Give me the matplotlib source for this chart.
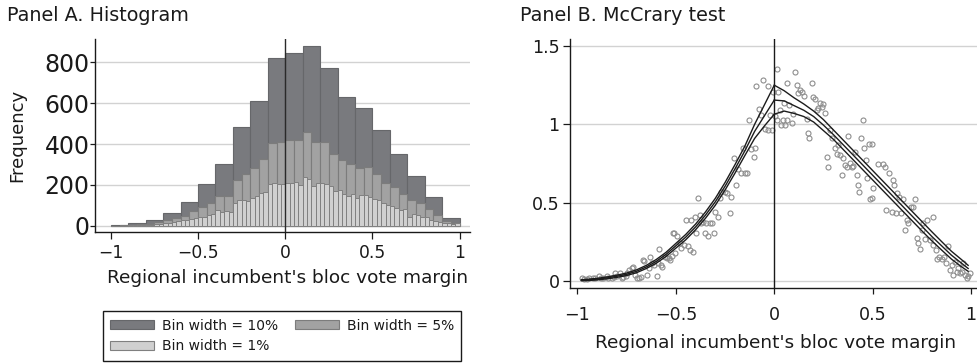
import numpy as np
import matplotlib
matplotlib.use("Agg")
import matplotlib.pyplot as plt
from matplotlib.patches import Patch

plt.rcParams["font.family"] = ["DejaVu Sans"]
plt.rcParams["text.color"] = "#1a1a1a"

# ---- Panel A: histogram counts ----
bins_10 = np.linspace(-1, 1, 21)
counts_10 = [3, 15, 28, 64, 118, 202, 300, 485, 611, 820,
             847, 880, 771, 629, 576, 469, 349, 243, 140, 39]

bins_5 = np.linspace(-1, 1, 41)
counts_5 = [1, 2, 6, 9, 11, 17, 26, 38, 48, 70,
            90, 112, 145, 147, 226, 253, 281, 325, 407, 408,
            420, 422, 460, 408, 410, 353, 320, 300, 284, 290,
            253, 211, 188, 156, 126, 110, 82, 53, 23, 15]

bins_fine = np.linspace(-1, 1, 81)
counts_fine = [0, 0, 1, 1, 2, 2, 3, 4, 4, 6,
               8, 8, 12, 15, 20, 22, 26, 28, 34, 36,
               44, 45, 52, 57, 76, 69, 73, 69, 113, 126,
               126, 121, 137, 145, 158, 167, 203, 207, 203, 204,
               211, 207, 216, 199, 238, 227, 196, 211, 207, 204,
               194, 170, 173, 154, 145, 154, 137, 150, 150, 142,
               129, 126, 110, 101, 96, 85, 77, 80, 44, 60,
               52, 44, 44, 28, 23, 20, 12, 12, 8, 12]

legend_labels = ["Bin width = 10%", "Bin width = 5%", "Bin width = 1%"]

# ---- Panel B: McCrary density, binned points and fits ----
mcc_x = [-0.978, -0.965, -0.952, -0.94, -0.923, -0.91, -0.89, -0.878, -0.868, -0.852,
         -0.843, -0.826, -0.815, -0.809, -0.80, -0.784, -0.775, -0.767, -0.755, -0.746,
         -0.736, -0.725, -0.716, -0.706, -0.696, -0.686, -0.679, -0.669, -0.662, -0.645,
         -0.637, -0.631, -0.623, -0.611, -0.598, -0.589, -0.584, -0.577, -0.569, -0.555,
         -0.547, -0.537, -0.53, -0.521, -0.513, -0.51, -0.503, -0.493, -0.48, -0.472,
         -0.459, -0.447, -0.438, -0.43, -0.421, -0.413, -0.404, -0.396, -0.387, -0.379,
         -0.37, -0.362, -0.352, -0.345, -0.337, -0.325, -0.317, -0.308, -0.30, -0.286,
         -0.277, -0.269, -0.252, -0.238, -0.223, -0.218, -0.206, -0.194, -0.184, -0.171,
         -0.158, -0.15, -0.137, -0.13, -0.12, -0.103, -0.096, -0.091, -0.077, -0.066,
         -0.057, -0.049, -0.032, -0.032, -0.024, -0.012, -0.005,
         0.005, 0.012, 0.015, 0.02, 0.029, 0.034, 0.042, 0.049, 0.054, 0.063,
         0.066, 0.076, 0.088, 0.097, 0.105, 0.113, 0.122, 0.13, 0.142, 0.152,
         0.164, 0.169, 0.178, 0.19, 0.198, 0.207, 0.215, 0.223, 0.232, 0.24,
         0.249, 0.257, 0.266, 0.274, 0.283, 0.291, 0.308, 0.317, 0.325, 0.334,
         0.342, 0.351, 0.359, 0.367, 0.376, 0.384, 0.393, 0.401, 0.41, 0.418,
         0.423, 0.432, 0.44, 0.449, 0.457, 0.466, 0.472, 0.483, 0.486, 0.495,
         0.503, 0.495, 0.529, 0.55, 0.562, 0.568, 0.584, 0.596, 0.605, 0.608,
         0.618, 0.622, 0.635, 0.642, 0.656, 0.664, 0.672, 0.681, 0.693, 0.703,
         0.715, 0.723, 0.732, 0.74, 0.749, 0.757, 0.766, 0.777, 0.791, 0.808,
         0.808, 0.821, 0.828, 0.838, 0.85, 0.862, 0.872, 0.884, 0.892, 0.901,
         0.909, 0.918, 0.926, 0.935, 0.943, 0.952, 0.96, 0.969, 0.977, 0.986,
         0.994]
mcc_y = [0.021, 0.012, 0.015, 0.02, 0.017, 0.021, 0.034, 0.016, 0.017, 0.032,
         0.017, 0.019, 0.026, 0.049, 0.032, 0.049, 0.017, 0.028, 0.032, 0.049,
         0.07, 0.081, 0.092, 0.038, 0.021, 0.017, 0.023, 0.134, 0.128, 0.038,
         0.081, 0.151, 0.113, 0.102, 0.034, 0.113, 0.202, 0.102, 0.092, 0.155,
         0.149, 0.145, 0.134, 0.16, 0.304, 0.309, 0.177, 0.287, 0.24, 0.209,
         0.23, 0.39, 0.224, 0.198, 0.39, 0.187, 0.41, 0.309, 0.528, 0.421,
         0.372, 0.379, 0.304, 0.368, 0.29, 0.372, 0.372, 0.309, 0.443, 0.406,
         0.528, 0.566, 0.57, 0.56, 0.436, 0.539, 0.783, 0.613, 0.713, 0.692,
         0.847, 0.692, 0.692, 1.028, 0.843, 0.792, 0.847, 1.247, 1.096, 1.06,
         1.284, 0.969, 1.247, 0.964, 1.06, 0.964, 1.209,
         1.054, 1.352, 1.028, 1.209, 1.092, 0.996, 1.028, 1.134, 0.996, 1.028,
         1.262, 1.124, 1.011, 1.066, 1.332, 1.252, 1.198, 1.22, 1.209, 1.181,
         1.032, 0.943, 0.911, 1.262, 1.177, 1.162, 1.092, 1.103, 1.134, 1.109,
         1.13, 1.071, 0.794, 0.73, 0.964, 0.911, 0.847, 0.811, 0.868, 0.805,
         0.677, 0.783, 0.741, 0.73, 0.926, 0.756, 0.73, 0.734, 0.826, 0.677,
         0.613, 0.57, 0.911, 1.028, 0.847, 0.773, 0.656, 0.875, 0.521, 0.875,
         0.592, 0.528, 0.745, 0.745, 0.73, 0.453, 0.692, 0.443, 0.645, 0.613,
         0.432, 0.56, 0.534, 0.432, 0.521, 0.326, 0.39, 0.368, 0.475, 0.475,
         0.524, 0.272, 0.241, 0.202, 0.326, 0.368, 0.266, 0.39, 0.262, 0.407,
         0.23, 0.198, 0.138, 0.155, 0.138, 0.155, 0.113, 0.224, 0.07, 0.102,
         0.038, 0.123, 0.06, 0.081, 0.049, 0.06, 0.117, 0.038, 0.017, 0.032,
         0.049]

fit_x_left = [-0.98, -0.95, -0.9, -0.85, -0.8, -0.75, -0.7, -0.65, -0.6, -0.55, -0.5,
              -0.45, -0.4, -0.35, -0.3, -0.25, -0.2, -0.15, -0.1, -0.05, 0.0]
fit_hi_left = [0.008, 0.011, 0.017, 0.026, 0.037, 0.051, 0.071, 0.10, 0.137, 0.183, 0.24,
               0.297, 0.363, 0.44, 0.527, 0.629, 0.742, 0.86, 1.0, 1.125, 1.25]
fit_mid_left = [0.005, 0.007, 0.012, 0.02, 0.03, 0.043, 0.062, 0.09, 0.125, 0.17, 0.225,
                0.28, 0.345, 0.42, 0.505, 0.605, 0.715, 0.83, 0.955, 1.055, 1.155]
fit_lo_left = [0.002, 0.003, 0.007, 0.014, 0.023, 0.035, 0.053, 0.08, 0.113, 0.157, 0.21,
               0.263, 0.327, 0.40, 0.483, 0.581, 0.688, 0.80, 0.91, 0.99, 1.065]

fit_x_right = [0.0, 0.05, 0.1, 0.15, 0.2, 0.25, 0.3, 0.35, 0.4, 0.45, 0.5,
               0.55, 0.6, 0.65, 0.7, 0.75, 0.8, 0.85, 0.9, 0.95, 0.985]
fit_hi_right = [1.25, 1.215, 1.17, 1.13, 1.085, 1.03, 0.965, 0.90, 0.835, 0.77, 0.705,
                0.64, 0.575, 0.51, 0.445, 0.38, 0.315, 0.252, 0.19, 0.138, 0.10]
fit_mid_right = [1.155, 1.15, 1.12, 1.09, 1.05, 0.995, 0.935, 0.87, 0.805, 0.74, 0.675,
                 0.61, 0.545, 0.48, 0.415, 0.35, 0.285, 0.225, 0.165, 0.115, 0.08]
fit_lo_right = [1.065, 1.085, 1.07, 1.05, 1.015, 0.96, 0.905, 0.84, 0.775, 0.71, 0.645,
                0.58, 0.515, 0.45, 0.385, 0.32, 0.257, 0.198, 0.14, 0.092, 0.062]

W, H = 977, 364
fig = plt.figure(figsize=(W / 100, H / 100), dpi=100)


def axes_px(left, top, right, bottom):
    return fig.add_axes([left / W, 1 - bottom / H, (right - left) / W, (bottom - top) / H])


dark, mid, light = "#797a7e", "#a2a2a2", "#d0d0d0"
grid_c = "#d2d2d2"
xt = [-1, -0.5, 0, 0.5, 1]
xt_lab = ["\u22121", "\u22120.5", "0", "0.5", "1"]

# ---- Panel A ----
axA = axes_px(95, 39, 470, 232.3)
axA.bar(bins_10[:-1], counts_10, width=np.diff(bins_10), align="edge",
        color=dark, edgecolor="#66676a", linewidth=0.8, zorder=2)
axA.bar(bins_5[:-1], counts_5, width=np.diff(bins_5), align="edge",
        color=mid, edgecolor="#7c7c7c", linewidth=0.8, zorder=3)
axA.bar(bins_fine[:-1], counts_fine, width=np.diff(bins_fine), align="edge",
        color=light, edgecolor="#808080", linewidth=0.7, zorder=4)
axA.axvline(0, color="#2a2a2a", linewidth=1.0, zorder=5)
axA.set_xlim(-1.091, 1.0595)
axA.set_ylim(-32, 914)
axA.set_yticks([0, 200, 400, 600, 800])
axA.set_xticks(xt)
axA.set_xticklabels(xt_lab)
axA.yaxis.grid(True, color=grid_c, linewidth=1.0, zorder=0)
axA.set_axisbelow(True)
axA.tick_params(axis="y", labelsize=17, length=3.5, width=0.9, pad=0.5, colors="#1a1a1a")
axA.tick_params(axis="x", labelsize=12.3, length=5, width=0.9, pad=3.5, colors="#1a1a1a")
for s in ["top", "right"]:
    axA.spines[s].set_visible(False)
for s in ["left", "bottom"]:
    axA.spines[s].set_linewidth(1.0)
    axA.spines[s].set_color("#1a1a1a")

fig.text(7 / W, 1 - 21 / H, "Panel A. Histogram", fontsize=13.8, va="baseline", ha="left")
fig.text(17.5 / W, 1 - 135.3 / H, "Frequency", fontsize=13.1, rotation=90,
         va="center", ha="center")
fig.text(287.5 / W, 1 - 283 / H, "Regional incumbent's bloc vote margin",
         fontsize=13.3, va="baseline", ha="center")

# legend entries ordered so the two columns read 10% / 5% on the first row
handles = [Patch(facecolor=dark, edgecolor="#66676a", linewidth=0.8),
           Patch(facecolor=light, edgecolor="#808080", linewidth=0.8),
           Patch(facecolor=mid, edgecolor="#7c7c7c", linewidth=0.8)]
leg = fig.legend(handles, [legend_labels[0], legend_labels[2], legend_labels[1]],
                 loc="center", bbox_to_anchor=(282 / W, 1 - 336 / H), ncol=2,
                 fontsize=10, frameon=True, fancybox=False, edgecolor="#1a1a1a",
                 framealpha=1, borderpad=0.55, handlelength=3.15, handleheight=0.65,
                 handletextpad=0.58, columnspacing=1.2, labelspacing=0.47)
leg.get_frame().set_linewidth(1.0)

# ---- Panel B ----
axB = axes_px(570, 39, 977, 288.3)
axB.plot(mcc_x, mcc_y, linestyle="none", marker="o", markersize=3.6,
         markerfacecolor="none", markeredgecolor="#8e8e8e", markeredgewidth=0.8, zorder=3)
for ys in (fit_hi_left, fit_mid_left, fit_lo_left):
    axB.plot(fit_x_left, ys, color="#1c1c1c", linewidth=1.0, zorder=4)
for ys in (fit_hi_right, fit_mid_right, fit_lo_right):
    axB.plot(fit_x_right, ys, color="#1c1c1c", linewidth=1.0, zorder=4)
axB.axvline(0, color="#1a1a1a", linewidth=1.0, zorder=5)
axB.set_xlim(-1.038, 1.03)
axB.set_ylim(-0.0466, 1.545)
axB.set_yticks([0, 0.5, 1, 1.5])
axB.set_yticklabels(["0", "0.5", "1", "1.5"])
axB.set_xticks(xt)
axB.set_xticklabels(xt_lab)
axB.yaxis.grid(True, color=grid_c, linewidth=1.0, zorder=0)
axB.set_axisbelow(True)
axB.tick_params(axis="y", labelsize=12.6, length=5, width=0.9, pad=2.5, colors="#1a1a1a")
axB.tick_params(axis="x", labelsize=12.6, length=4.5, width=0.9, pad=8, colors="#1a1a1a")
for s in ["top", "right"]:
    axB.spines[s].set_visible(False)
for s in ["left", "bottom"]:
    axB.spines[s].set_linewidth(1.0)
    axB.spines[s].set_color("#1a1a1a")

fig.text(520 / W, 1 - 21 / H, "Panel B. McCrary test", fontsize=13.8, va="baseline", ha="left")
fig.text(775.8 / W, 1 - 348 / H, "Regional incumbent's bloc vote margin",
         fontsize=13.3, va="baseline", ha="center")

fig.savefig("out.png", dpi=100)
